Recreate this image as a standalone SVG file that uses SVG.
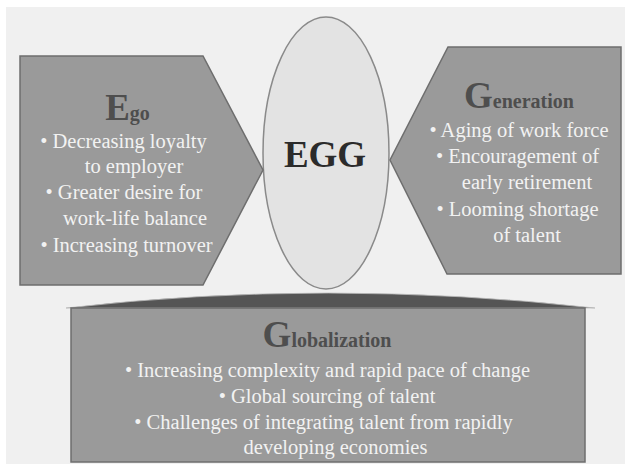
<svg xmlns="http://www.w3.org/2000/svg" width="630" height="466" viewBox="0 0 630 466">
  <style>
    .panel { fill: #9a9a9a; stroke: #6e6e6e; stroke-width: 1.5; }
    .egg { fill: #e3e3e3; stroke: #8a8a8a; stroke-width: 1.5; }
    .title { font-family: "Liberation Serif", "Times New Roman", serif; font-weight: bold; fill: #4e4e4e; text-anchor: middle; }
    .big { font-size: 37px; }
    .small { font-size: 20px; }
    .body { font-family: "Liberation Serif", "Times New Roman", serif; font-size: 20.5px; fill: #f2f2f2; text-anchor: middle; }
    .center { font-family: "Liberation Serif", "Times New Roman", serif; font-weight: bold; font-size: 37px; fill: #2b2b2b; text-anchor: middle; }
  </style>

  <!-- canvas -->
  <rect x="0" y="0" width="630" height="466" fill="#ffffff"/>
  <rect x="6" y="7" width="619" height="457" fill="#f0f0f0"/>

  <!-- central egg -->
  <g id="node-egg">
    <ellipse class="egg" cx="326" cy="153" rx="63" ry="136"/>
    <text class="center" x="325" y="167">EGG</text>
  </g>

  <!-- Ego -->
  <g id="node-ego">
    <polygon class="panel" points="20,56 203,56 263,170 203,285 20,285"/>
    <text class="title" x="127.5" y="120"><tspan class="big">E</tspan><tspan class="small">go</tspan></text>
    <text class="body" x="123.5" y="148">• Decreasing loyalty</text>
    <text class="body" x="134" y="173">to employer</text>
    <text class="body" x="124" y="199">• Greater desire for</text>
    <text class="body" x="135" y="225">work-life balance</text>
    <text class="body" x="126.5" y="252">• Increasing turnover</text>
  </g>

  <!-- Generation -->
  <g id="node-generation">
    <polygon class="panel" points="448,47 621,47 621,274 447,274 390,160"/>
    <text class="title" x="519" y="108"><tspan class="big">G</tspan><tspan class="small">eneration</tspan></text>
    <text class="body" x="519" y="137">• Aging of work force</text>
    <text class="body" x="517.5" y="163">• Encouragement of</text>
    <text class="body" x="527" y="189">early retirement</text>
    <text class="body" x="517.5" y="216">• Looming shortage</text>
    <text class="body" x="527" y="242">of talent</text>
  </g>

  <!-- Globalization -->
  <g id="node-globalization">
    <path d="M66,308 Q326,278 595,308 Z" fill="#555555" stroke="#bdbdbd" stroke-width="0.8"/>
    <rect class="panel" x="71" y="308" width="514" height="154"/>
    <text class="title" x="327" y="347"><tspan class="big">G</tspan><tspan class="small">lobalization</tspan></text>
    <text class="body" x="327.5" y="377">• Increasing complexity and rapid pace of change</text>
    <text class="body" x="327" y="403">• Global sourcing of talent</text>
    <text class="body" x="323.5" y="429">• Challenges of integrating talent from rapidly</text>
    <text class="body" x="335.5" y="454">developing economies</text>
  </g>

  <g id="connectors"/>
</svg>
